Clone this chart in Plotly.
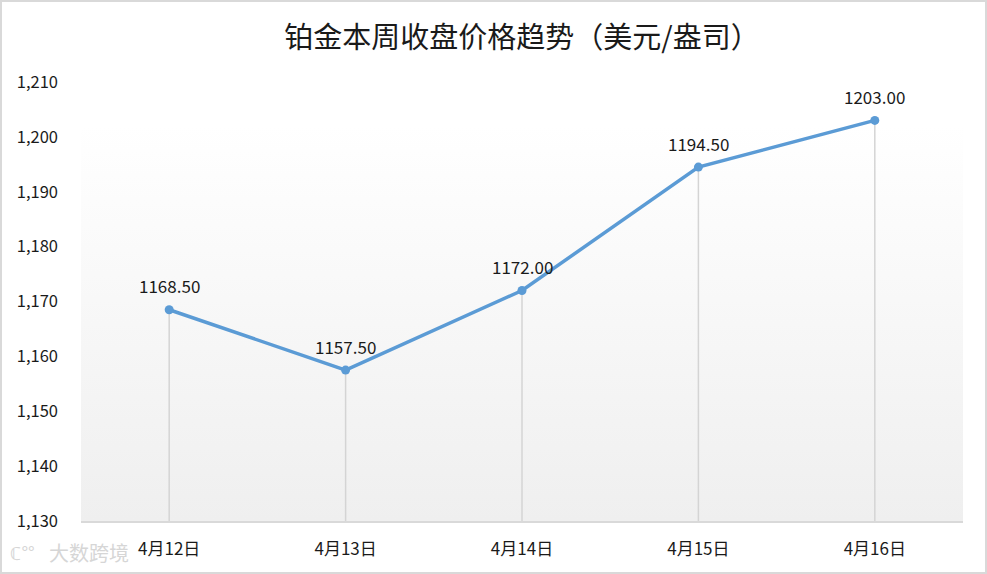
import base64
import plotly.graph_objects as go

categories = ["4月12日", "4月13日", "4月14日", "4月15日", "4月16日"]
prices = [1168.50, 1157.50, 1172.00, 1194.50, 1203.00]
y_min, y_max, y_step = 1130, 1210, 10
title_text = "铂金本周收盘价格趋势（美元/盎司）"

W, H = 987, 574
ml, mr, mt, mb = 81, 24, 82, 53
pw, ph = W - ml - mr, H - mt - mb

font_cjk = "Noto Sans CJK SC, Noto Sans, sans-serif"
txt_color = "#1a1a1a"

fig = go.Figure()
fig.add_trace(go.Scatter(
    x=categories, y=prices, mode="lines+markers",
    line=dict(color="#5b9bd5", width=3.5),
    marker=dict(color="#5b9bd5", size=9),
    error_y=dict(type="data", symmetric=False,
                 array=[0] * len(prices),
                 arrayminus=[v - y_min for v in prices],
                 color="#d4d4d4", thickness=1.5, width=0),
    hoverinfo="x+y", showlegend=False,
))

svg = ('<svg xmlns="http://www.w3.org/2000/svg" width="100" height="100" preserveAspectRatio="none">'
       '<defs><linearGradient id="g" x1="0" y1="0" x2="0" y2="1">'
       '<stop offset="0" stop-color="#ffffff"/><stop offset="0.1" stop-color="#ffffff"/>'
       '<stop offset="1" stop-color="#efefef"/>'
       '</linearGradient></defs><rect width="100" height="100" fill="url(#g)"/></svg>')
src = "data:image/svg+xml;base64," + base64.b64encode(svg.encode()).decode()

annotations = [dict(x=c, y=v, text=f"{v:.2f}", xref="x", yref="y", showarrow=False,
                    yshift=24, yanchor="middle",
                    font=dict(size=17, color=txt_color, family=font_cjk))
               for c, v in zip(categories, prices)]
annotations += [dict(text="大数跨境", xref="paper", yref="paper",
                     x=-(ml - 47) / pw, y=-(mb - 22) / ph, xanchor="left", yanchor="middle",
                     showarrow=False, font=dict(size=20, color="#d6d6d6", family=font_cjk)),
                dict(text="ℂ°°", xref="paper", yref="paper",
                     x=-(ml - 8) / pw, y=-(mb - 22) / ph, xanchor="left", yanchor="middle",
                     showarrow=False, font=dict(size=18, color="#d6d6d6", family=font_cjk))]

fig.update_layout(
    width=W, height=H,
    margin=dict(l=ml, r=mr, t=mt, b=mb),
    paper_bgcolor="#ffffff", plot_bgcolor="rgba(0,0,0,0)",
    font=dict(family=font_cjk, size=16, color=txt_color),
    title=dict(text=title_text, x=0.5, xanchor="center", y=1 - 38 / H, yanchor="middle",
               xref="paper",
               font=dict(size=29, color=txt_color, family=font_cjk)),
    xaxis=dict(type="category", showgrid=False, showline=True, linecolor="#d9d9d9",
               linewidth=1.5, ticks="", ticklabelstandoff=12,
               tickfont=dict(size=17, color=txt_color), range=[-0.5, 4.5]),
    yaxis=dict(range=[y_min, y_max], dtick=y_step, tick0=y_min, showgrid=False,
               zeroline=False, showline=False, tickformat=",d", ticklabelstandoff=22,
               tickfont=dict(size=16.5, color=txt_color)),
    images=[dict(source=src, xref="paper", yref="paper", x=0, y=1, sizex=1, sizey=1,
                 xanchor="left", yanchor="top", sizing="stretch", layer="below")],
    shapes=[dict(type="rect", xref="paper", yref="paper",
                 x0=-(ml - 1) / pw, x1=1 + (mr - 1) / pw,
                 y0=-(mb - 1) / ph, y1=1 + (mt - 1) / ph,
                 line=dict(color="#d9d9d9", width=2), fillcolor="rgba(0,0,0,0)")],
    annotations=annotations,
)

fig.write_html("out.html", config={"displayModeBar": False},
               post_script="document.body.style.margin='0';document.body.style.overflow='hidden';")
